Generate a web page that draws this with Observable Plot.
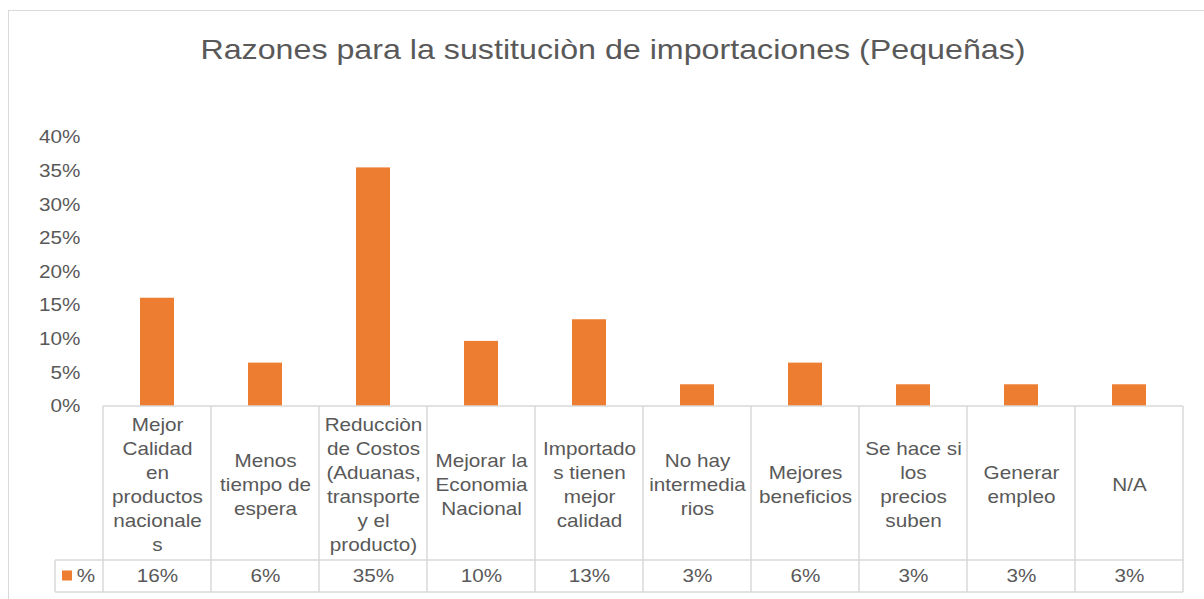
<!DOCTYPE html>
<html>
<head>
<meta charset="utf-8">
<script src="https://cdn.jsdelivr.net/npm/d3@7"></script>
<script src="https://cdn.jsdelivr.net/npm/@observablehq/plot@0.6"></script>
<style>
  html, body { margin: 0; padding: 0; background: #fff; }
  #wrap { position: relative; width: 1204px; height: 599px; overflow: hidden; font-family: "Liberation Sans", Arial, sans-serif; color: #595959; }
  #frame { position: absolute; left: 8px; top: 10px; width: 1300px; height: 700px; border-left: 1.5px solid #d9d9d9; border-top: 1.5px solid #d9d9d9; }
  #title { position: absolute; left: 22px; top: 32px; width: 1182px; text-align: center; font-size: 28px; line-height: 36px; white-space: nowrap; transform: scaleX(1.15); transform-origin: 591px 50%; }
  #chart { position: absolute; left: 0; top: 100px; }
</style>
</head>
<body>
<div id="wrap">
  <div id="frame"></div>
  <div id="title">Razones para la sustituciòn de importaciones (Pequeñas)</div>
  <div id="chart"></div>
</div>
<script>
const categories = [
  "Mejor Calidad en productos nacionales",
  "Menos tiempo de espera",
  "Reducciòn de Costos (Aduanas, transporte y el producto)",
  "Mejorar la Economia Nacional",
  "Importados tienen mejor calidad",
  "No hay intermediarios",
  "Mejores beneficios",
  "Se hace si los precios suben",
  "Generar empleo",
  "N/A"
];
const categoryLines = [
  "Mejor\nCalidad\nen\nproductos\nnacionale\ns",
  "Menos\ntiempo de\nespera",
  "Reducciòn\nde Costos\n(Aduanas,\ntransporte\ny el\nproducto)",
  "Mejorar la\nEconomia\nNacional",
  "Importado\ns tienen\nmejor\ncalidad",
  "No hay\nintermedia\nrios",
  "Mejores\nbeneficios",
  "Se hace si\nlos\nprecios\nsuben",
  "Generar\nempleo",
  "N/A"
];
const values = [0.161, 0.0645, 0.3548, 0.0968, 0.129, 0.0323, 0.0645, 0.0323, 0.0323, 0.0323];
const yTicks = [0, 0.05, 0.10, 0.15, 0.20, 0.25, 0.30, 0.35, 0.40];
const seriesName = "%";

const data = categories.map((c, i) => ({cat: c, label: categoryLines[i], value: values[i]}));
const pct = d3.format(".0%");

const W = 1204, H = 499;
const mLeft = 103, mRight = 21, mTop = 37, mBottom = 193;

const plot = Plot.plot({
  width: W,
  height: H,
  marginLeft: mLeft,
  marginRight: mRight,
  marginTop: mTop,
  marginBottom: mBottom,
  style: {fontFamily: "'Liberation Sans', Arial, sans-serif", fontSize: "18px", color: "#595959", background: "transparent", overflow: "visible"},
  x: {domain: categories, paddingInner: 0.685, paddingOuter: 0.3425, axis: null},
  y: {domain: [0, 0.4], ticks: yTicks, tickFormat: d => Math.round(d * 100) + "%", tickSize: 0, tickPadding: 23, label: null, fontSize: 18},
  marks: [
    Plot.barY(data, {x: "cat", y: "value", fill: "#ED7D31"}),
    Plot.text(data, {x: "cat", text: "label", frameAnchor: "bottom", dy: 77, lineAnchor: "middle", lineHeight: 1.333, fontSize: 18, fill: "#595959"}),
    Plot.text(data, {x: "cat", text: d => pct(d.value), frameAnchor: "bottom", dy: 170, lineAnchor: "middle", fontSize: 18, fill: "#595959"})
  ]
});
document.getElementById("chart").appendChild(plot);

// Data table grid, built from the plot's own x scale
const xs = plot.scale("x");
const bw = xs.bandwidth, step = xs.step;
const colStart = c => xs.apply(c) + bw / 2 - step / 2;
const yTop = H - mBottom;           // 0% line
const yRow = yTop + 154;            // between labels and values
const yBot = yTop + 186;            // bottom of table
const legendLeft = 55;
const x0 = colStart(categories[0]);
const x1 = colStart(categories[categories.length - 1]) + step;

const svg = d3.select(plot);
const g = svg.append("g").attr("stroke", "#d9d9d9").attr("stroke-width", 1.5).attr("fill", "none");
g.append("line").attr("x1", x0).attr("x2", x1).attr("y1", yTop).attr("y2", yTop);
g.append("line").attr("x1", legendLeft).attr("x2", x1).attr("y1", yRow).attr("y2", yRow);
g.append("line").attr("x1", legendLeft).attr("x2", x1).attr("y1", yBot).attr("y2", yBot);
g.append("line").attr("x1", legendLeft).attr("x2", legendLeft).attr("y1", yRow).attr("y2", yBot);
categories.forEach(c => {
  const xc = colStart(c);
  g.append("line").attr("x1", xc).attr("x2", xc).attr("y1", yTop).attr("y2", yBot);
});
g.append("line").attr("x1", x1).attr("x2", x1).attr("y1", yTop).attr("y2", yBot);

// Legend cell
const legY = (yRow + yBot) / 2;
svg.append("rect").attr("x", 62).attr("y", legY - 5.5).attr("width", 10).attr("height", 10).attr("fill", "#ED7D31");
svg.append("text").attr("x", 86).attr("y", legY).attr("dy", "0.35em").attr("text-anchor", "middle")
  .attr("fill", "#595959").attr("font-size", 18).text(seriesName);

// Widen glyphs horizontally about each text's anchor (reference text is horizontally stretched)
const SX = 1.15;
const isNum = v => v != null && /^\s*-?[\d.]+(e-?\d+)?\s*$/.test(v);
plot.querySelectorAll("text").forEach(el => {
  const t = el.getAttribute("transform") || "";
  const ax = el.getAttribute("x"), ay = el.getAttribute("y");
  let x = 0, y = 0;
  if (isNum(ax)) { x = +ax; el.removeAttribute("x"); }
  if (isNum(ay)) { y = +ay; el.removeAttribute("y"); }
  el.setAttribute("transform", `${t} translate(${x},${y}) scale(${SX},1)`);
});
</script>
</body>
</html>
